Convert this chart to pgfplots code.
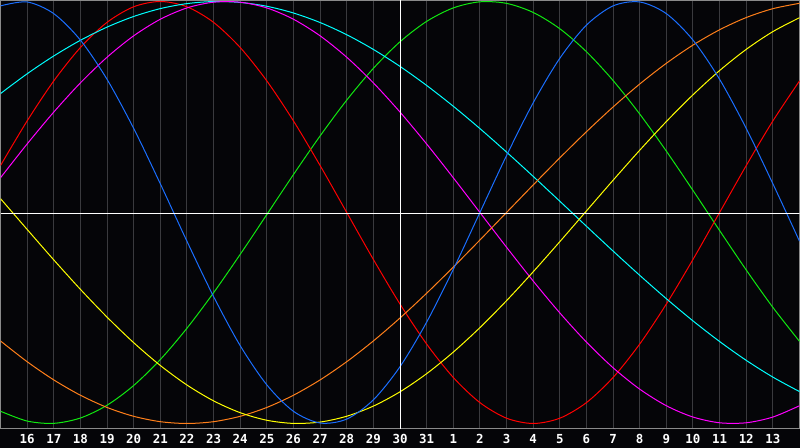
\documentclass[border=0pt]{standalone}
\usepackage{fontspec}
\setmainfont{DejaVu Sans Mono}
\usepackage{pgfplots}
\pgfplotsset{compat=1.18}
\definecolor{bg}{HTML}{050508}
\definecolor{gridc}{HTML}{3A3A3E}
\definecolor{framec}{HTML}{8A8A8A}
\definecolor{cred}{HTML}{FF0000}
\definecolor{cgreen}{HTML}{10E810}
\definecolor{cblue}{HTML}{1A6EFF}
\definecolor{ccyan}{HTML}{00FFFF}
\definecolor{cmag}{HTML}{FF00FF}
\definecolor{corange}{HTML}{FF7F1A}
\definecolor{cyellow}{HTML}{FFFF00}
\begin{document}
\begin{tikzpicture}[x=1bp,y=1bp]
\fill[bg] (0,0) rectangle (800,448);
\begin{axis}[
  at={(0.5bp,19.5bp)}, anchor=south west,
  scale only axis, width=799bp, height=428bp,
  xmin=15, xmax=45, ymin=-1.0237, ymax=1.0047,
  axis background/.style={fill=bg},
  axis line style={draw=framec, line width=1bp},
  xtick={16,17,18,19,20,21,22,23,24,25,26,27,28,29,30,31,32,33,34,35,36,37,38,39,40,41,42,43,44},
  xticklabels={16,17,18,19,20,21,22,23,24,25,26,27,28,29,30,31,1,2,3,4,5,6,7,8,9,10,11,12,13},
  ytick=\empty,
  xmajorgrids,
  major grid style={draw=gridc, line width=1bp},
  major tick length=0pt,
  xticklabel style={font=\bfseries\fontsize{12.5}{12.5}\selectfont, text=white, anchor=north, inner sep=0pt, yshift=-6bp},
  every axis plot/.append style={line width=1bp, smooth, no marks},
]
% green (33 d)
\addplot[cgreen] coordinates {(15,-0.9418)(16,-0.9884)(17,-0.9993)(18,-0.9740)(19,-0.9135)(20,-0.8200)(21,-0.6970)(22,-0.5486)(23,-0.3804)(24,-0.1985)(25,-0.0095)(26,0.1799)(27,0.3628)(28,0.5325)(29,0.6831)(30,0.8090)(31,0.9056)(32,0.9695)(33,0.9984)(34,0.9911)(35,0.9481)(36,0.8708)(37,0.7620)(38,0.6255)(39,0.4667)(40,0.2908)(41,0.1045)(42,-0.0856)(43,-0.2726)(44,-0.4498)(45,-0.6107)};
% red (28 d)
\addplot[cred] coordinates {(15,0.2225)(16,0.4339)(17,0.6235)(18,0.7818)(19,0.9010)(20,0.9749)(21,1)(22,0.9749)(23,0.9010)(24,0.7818)(25,0.6235)(26,0.4339)(27,0.2225)(28,0)(29,-0.2225)(30,-0.4339)(31,-0.6235)(32,-0.7818)(33,-0.9010)(34,-0.9749)(35,-1)(36,-0.9749)(37,-0.9010)(38,-0.7818)(39,-0.6235)(40,-0.4339)(41,-0.2225)(42,0)(43,0.2225)(44,0.4339)(45,0.6235)};
% cyan (53 d)
\addplot[ccyan] coordinates {(15,0.5635)(16,0.6573)(17,0.7418)(18,0.8160)(19,0.8785)(20,0.9289)(21,0.9662)(22,0.9899)(23,0.9997)(24,0.9955)(25,0.9773)(26,0.9454)(27,0.9002)(28,0.8425)(29,0.7727)(30,0.6923)(31,0.6021)(32,0.5035)(33,0.3977)(34,0.2863)(35,0.1711)(36,0.0534)(37,-0.0652)(38,-0.1827)(39,-0.2977)(40,-0.4085)(41,-0.5137)(42,-0.6115)(43,-0.7008)(44,-0.7803)(45,-0.8488)};
% magenta (38 d)
\addplot[cmag] coordinates {(15,0.1646)(16,0.3247)(17,0.4759)(18,0.6142)(19,0.7357)(20,0.8372)(21,0.9158)(22,0.9694)(23,0.9966)(24,0.9966)(25,0.9694)(26,0.9158)(27,0.8372)(28,0.7357)(29,0.6142)(30,0.4759)(31,0.3247)(32,0.1646)(33,0)(34,-0.1646)(35,-0.3247)(36,-0.4759)(37,-0.6142)(38,-0.7357)(39,-0.8372)(40,-0.9158)(41,-0.9694)(42,-0.9966)(43,-0.9966)(44,-0.9694)(45,-0.9158)};
% orange (48 d)
\addplot[corange] coordinates {(15,-0.6088)(16,-0.7071)(17,-0.7934)(18,-0.8660)(19,-0.9239)(20,-0.9659)(21,-0.9914)(22,-1)(23,-0.9914)(24,-0.9659)(25,-0.9239)(26,-0.8660)(27,-0.7934)(28,-0.7071)(29,-0.6088)(30,-0.5)(31,-0.3827)(32,-0.2588)(33,-0.1305)(34,0)(35,0.1305)(36,0.2588)(37,0.3827)(38,0.5)(39,0.6088)(40,0.7071)(41,0.7934)(42,0.8660)(43,0.9239)(44,0.9659)(45,0.9914)};
% yellow (43 d)
\addplot[cyellow] coordinates {(15,0.0657)(16,-0.0802)(17,-0.2246)(18,-0.3641)(19,-0.4958)(20,-0.6169)(21,-0.7250)(22,-0.8176)(23,-0.8927)(24,-0.9488)(25,-0.9847)(26,-0.9996)(27,-0.9932)(28,-0.9656)(29,-0.9175)(30,-0.8498)(31,-0.7639)(32,-0.6618)(33,-0.5457)(34,-0.4179)(35,-0.2811)(36,-0.1383)(37,0.0073)(38,0.1528)(39,0.2950)(40,0.4310)(41,0.5577)(42,0.6727)(43,0.7732)(44,0.8573)(45,0.9232)};
% blue (23 d)
\addplot[cblue] coordinates {(15,0.9791)(16,0.9977)(17,0.9423)(18,0.8170)(19,0.6311)(20,0.3984)(21,0.1362)(22,-0.1362)(23,-0.3984)(24,-0.6311)(25,-0.8170)(26,-0.9423)(27,-0.9977)(28,-0.9791)(29,-0.8879)(30,-0.7308)(31,-0.5196)(32,-0.2698)(33,0)(34,0.2698)(35,0.5196)(36,0.7308)(37,0.8879)(38,0.9791)(39,0.9977)(40,0.9423)(41,0.8170)(42,0.6311)(43,0.3984)(44,0.1362)(45,-0.1362)};
% today line and zero line
\addplot[white, line width=1bp, sharp plot] coordinates {(30,-1.1)(30,1.1)};
\addplot[white, line width=1bp, sharp plot] coordinates {(15,-0.004)(45,-0.004)};
\end{axis}
\pgfresetboundingbox
\path (0,0) rectangle (800,448);
\end{tikzpicture}
\end{document}
